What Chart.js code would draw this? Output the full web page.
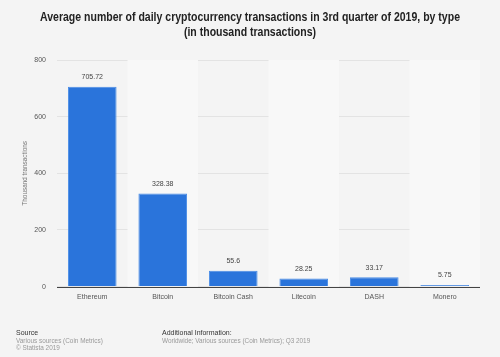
<!DOCTYPE html>
<html><head><meta charset="utf-8">
<script src="https://cdn.jsdelivr.net/npm/chart.js@4/dist/chart.umd.min.js"></script>
<style>
html,body{margin:0;padding:0;background:#f4f4f4;}
#wrap{position:relative;width:500px;height:357px;font-family:"Liberation Sans",Arial,sans-serif;}
canvas{position:absolute;left:0;top:0;}
.f{position:absolute;font-size:6.4px;color:#999;line-height:7.7px;}
.f b{color:#333;font-weight:normal;font-size:7px;}
</style></head><body>
<div id="wrap"><canvas id="c" width="500" height="357"></canvas>
<div class="f" style="left:16px;top:329px;"><b>Source</b><br>Various sources (Coin Metrics)<br>© Statista 2019</div>
<div class="f" style="left:162px;top:329px;"><b>Additional Information:</b><br>Worldwide; Various sources (Coin Metrics); Q3 2019</div>
</div>
<script>
const categories = ["Ethereum","Bitcoin","Bitcoin Cash","Litecoin","DASH","Monero"];
const values = [705.72, 328.38, 55.6, 28.25, 33.17, 5.75];
const valueLabels = ["705.72","328.38","55.6","28.25","33.17","5.75"];
const yTicks = [0,200,400,600,800];
const titleLines = ["Average number of daily cryptocurrency transactions in 3rd quarter of 2019, by type","(in thousand transactions)"];
const FONT = '"Liberation Sans", Arial, sans-serif';

const titlePlugin = {
  id:'ttl',
  afterDraw(chart){
    const {ctx} = chart;
    ctx.save();
    ctx.font = 'bold 12.5px ' + FONT;
    ctx.fillStyle = '#222';
    ctx.textAlign='center'; ctx.textBaseline='middle';
    const w0 = ctx.measureText(titleLines[0]).width;
    const k = Math.min(1, 420/w0);
    titleLines.forEach((t,i)=>{
      const w = ctx.measureText(t).width;
      ctx.fillText(t, 250, 18 + i*15, w*k);
    });
    ctx.restore();
  }
};
const bands = {
  id:'bands',
  beforeDatasetsDraw(chart){
    const {ctx, chartArea:a} = chart;
    ctx.save();
    const n = categories.length, w = (a.right-a.left)/n;
    for(let i=1;i<n;i+=2){
      ctx.fillStyle = '#f8f8f8';
      ctx.fillRect(a.left+i*w, a.top, w, a.bottom-a.top);
    }
    ctx.restore();
  }
};
const labelsPlugin = {
  id:'vlabels',
  afterDatasetsDraw(chart){
    const {ctx} = chart;
    const meta = chart.getDatasetMeta(0);
    ctx.save();
    ctx.font = '7px ' + FONT;
    ctx.fillStyle = '#444';
    ctx.textAlign='center'; ctx.textBaseline='bottom';
    meta.data.forEach((bar,i)=>{ ctx.fillText(valueLabels[i], bar.x, bar.y-6); });
    ctx.restore();
  }
};
const axisLine = {
  id:'axisLine',
  afterDatasetsDraw(chart){
    const {ctx, chartArea:a, scales:{y}} = chart;
    const yy = Math.round(y.getPixelForValue(0))+0.5;
    ctx.save(); ctx.strokeStyle='#444'; ctx.lineWidth=1;
    ctx.beginPath(); ctx.moveTo(a.left,yy); ctx.lineTo(a.right,yy); ctx.stroke(); ctx.restore();
  }
};

new Chart(document.getElementById('c'),{
  type:'bar',
  data:{labels:categories,datasets:[{data:values,backgroundColor:'#2a74db',borderColor:'#4a8ce6',borderWidth:{left:1,right:1,top:1,bottom:0},barPercentage:0.69,categoryPercentage:1}]},
  options:{
    responsive:false,animation:false,
    layout:{padding:{left:0,right:20,top:60,bottom:50}},
    plugins:{legend:{display:false},tooltip:{enabled:false},title:{display:false}},
    scales:{
      x:{grid:{display:false,drawTicks:false},border:{display:false},ticks:{color:'#555',font:{family:FONT,size:7},padding:6}},
      y:{min:0,max:800,afterBuildTicks(s){s.ticks=yTicks.map(v=>({value:v}));},
        afterFit(s){s.width=57;},
        grid:{color:'#e3e3e3',drawTicks:false},border:{display:false},
        ticks:{color:'#555',font:{family:FONT,size:7},padding:11},
        title:{display:true,text:'Thousand transactions',color:'#777',font:{family:FONT,size:6.4},padding:{top:21,bottom:0}}}
    }
  },
  plugins:[bands,labelsPlugin,axisLine,titlePlugin]
});
</script></body></html>
